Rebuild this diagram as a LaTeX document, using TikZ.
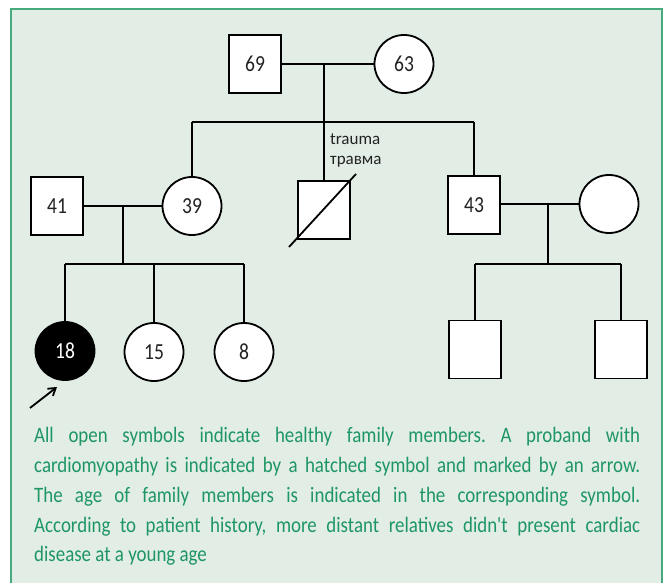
\documentclass[tikz,border=0pt]{standalone}
\usepackage{fontspec}
\usetikzlibrary{shapes.geometric,arrows.meta}
\setmainfont{Carlito}
\newfontfamily\capfont[FakeStretch=0.86]{Carlito}
\newfontfamily\agefont[FakeStretch=0.85]{Carlito}
\definecolor{bgreen}{RGB}{225,237,229}
\definecolor{framegreen}{RGB}{70,170,125}
\definecolor{txtgreen}{RGB}{30,150,100}
\definecolor{agegray}{RGB}{35,35,35}
\begin{document}
\begin{tikzpicture}[x=1pt,y=-1pt,
  lw/.style={line width=1.8pt},
  male/.style={draw,lw,fill=white,rectangle,minimum width=52pt,minimum height=58pt,inner sep=0pt,text=agegray,font=\agefont\fontsize{23}{26}\selectfont},
  female/.style={draw,lw,fill=white,ellipse,minimum width=59pt,minimum height=58pt,inner sep=0pt,text=agegray,font=\agefont\fontsize{23}{26}\selectfont},
  link/.style={lw,black},
  small/.style={font=\fontsize{17}{20}\selectfont,inner sep=0pt,anchor=west,text=agegray}]
\useasboundingbox (0,0) rectangle (665,583);
\fill[white] (0,0) rectangle (665,583);
\fill[bgreen] (10.5,9.5) rectangle (661.5,583);
\draw[framegreen,line width=2pt] (10.5,583) -- (10.5,9.5) -- (661.5,9.5) -- (661.5,583);
% generation I
\node[male] (p69) at (255,64) {69};
\node[female] (p63) at (404,64) {63};
\coordinate (m1) at (324,64);
\coordinate (s1) at (324,122);
% generation II
\node[male] (p41) at (57,206) {41};
\node[female] (p39) at (192,206) {39};
\node[male] (pd) at (324,210) {};
\node[male] (p43) at (474,205) {43};
\node[female] (pw) at (609,204) {};
\coordinate (m2) at (123,206);
\coordinate (s2) at (123,264);
\coordinate (m3) at (548,204);
\coordinate (s3) at (548,264);
% generation III
\node[female,fill=black,text=white] (p18) at (65,351) {18};
\node[female] (p15) at (154,352) {15};
\node[female] (p8) at (244,352) {8};
\node[male] (c1) at (475,349.5) {};
\node[male] (c2) at (621,349.5) {};
% connectors gen I
\draw[link] (p69.east) -- (p63.west);
\draw[link] (m1) -- (s1);
\draw[link] (p39.north |- s1) -- (p43.north |- s1);
\draw[link] (p39.north |- s1) -- (p39.north);
\draw[link] (s1) -- (pd.north);
\draw[link] (p43.north |- s1) -- (p43.north);
% deceased
\draw[link] ([shift={(-35,37)}]pd.center) -- ([shift={(32,-36)}]pd.center);
\node[small] (tr1) at (330,139) {trauma};
\node[small] (tr2) at (330,162) {травма};
% connectors gen II
\draw[link] (p41.east) -- (p39.west);
\draw[link] (m2) -- (s2);
\draw[link] (p18.north |- s2) -- (p8.north |- s2);
\draw[link] (p18.north |- s2) -- (p18.north);
\draw[link] (p15.north |- s2) -- (p15.north);
\draw[link] (p8.north |- s2) -- (p8.north);
\draw[link] (p43.east |- pw) -- (pw.west);
\draw[link] (m3) -- (s3);
\draw[link] (c1.north |- s3) -- (c2.north |- s3);
\draw[link] (c1.north |- s3) -- (c1.north);
\draw[link] (c2.north |- s3) -- (c2.north);
% proband arrow
\coordinate (at) at (30,408);
\coordinate (ah) at (57,387);
\draw[lw,-{Straight Barb[length=7pt,width=9pt]}] (at) -- (ah);
% caption
\node[anchor=base west,inner sep=0pt,text width=606pt,align=justify,text=txtgreen,
  font=\capfont\fontsize{22}{30}\selectfont] (cap) at (34,442)
  {\frenchspacing\hyphenpenalty=10000 All open symbols indicate healthy family members. A proband with\linebreak
   cardiomyopathy is indicated by a hatched symbol and marked by an arrow.\linebreak
   The age of family members is indicated in the corresponding symbol.\linebreak
   According to patient history, more distant relatives didn't present cardiac\linebreak
   disease at a young age};
\end{tikzpicture}
\end{document}
